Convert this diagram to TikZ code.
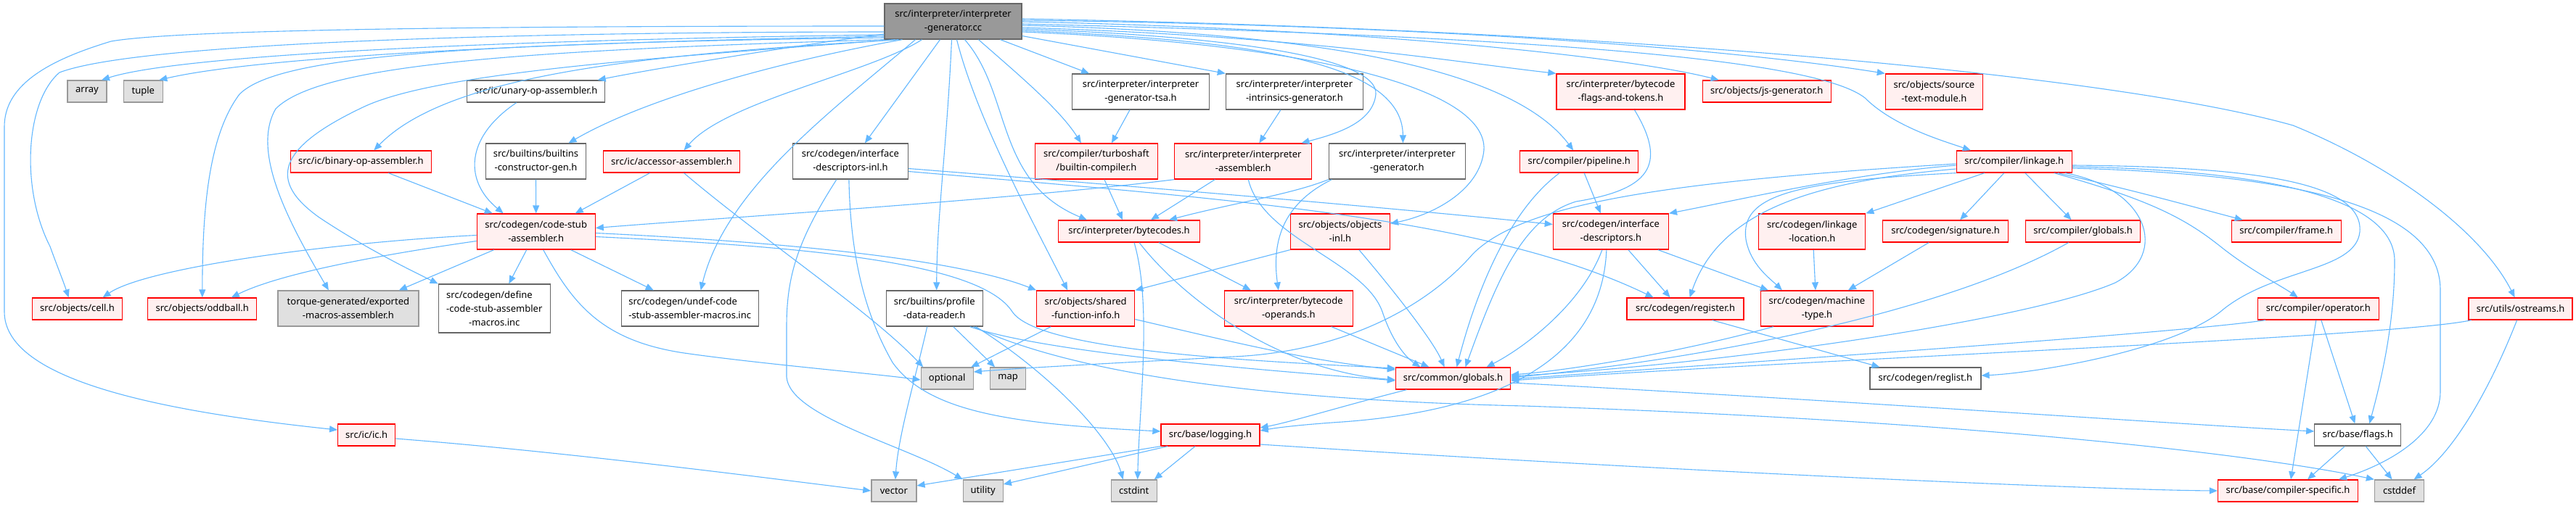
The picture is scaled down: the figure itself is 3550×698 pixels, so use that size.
\documentclass[tikz,border=0pt]{standalone}
\usepackage{fontspec}
\setmainfont{Noto Sans}
\usetikzlibrary{arrows.meta}
\definecolor{edgec}{HTML}{63B8FF}
\definecolor{rfill}{HTML}{FFF0F0}
\definecolor{rdraw}{HTML}{FF0000}
\definecolor{gdraw}{HTML}{666666}
\definecolor{sfill}{HTML}{E0E0E0}
\definecolor{sdraw}{HTML}{999999}
\definecolor{mfill}{HTML}{999999}
\newlength\dlen
\tikzset{
  basebox/.style={rectangle, inner sep=0pt, align=center, font=\fontsize{13}{19}\selectfont, line width=1.3pt, text=black},
  rnode/.style={basebox, draw=rdraw, fill=rfill},
  wnode/.style={basebox, draw=gdraw, fill=white},
  snode/.style={basebox, draw=sdraw, fill=sfill},
  mnode/.style={basebox, draw=gdraw, fill=mfill},
  conn/.style={draw=edgec, line width=1.1pt, -{Triangle[length=11pt,width=9pt]}},
}
\begin{document}
\begin{tikzpicture}[x=1pt,y=-1pt]
\useasboundingbox (0,0) rectangle (3550,698);
\fill[white] (0,0) rectangle (3550,698);
% ---------- nodes ----------
\node[mnode, minimum width=189pt, minimum height=49pt] (main) at (1313.5,29.5) {src/interpreter/interpreter\\-generator.cc};
\node[snode, minimum width=54pt, minimum height=30pt] (array) at (120,126) {array};
\node[snode, minimum width=54pt, minimum height=30pt] (tuple) at (197.3,126) {tuple};
\node[wnode, minimum width=190pt, minimum height=30pt] (unary) at (738.7,126) {src/ic/unary-op-assembler.h};
\node[wnode, minimum width=189pt, minimum height=49pt] (tsa) at (1572,126.5) {src/interpreter/interpreter\\-generator-tsa.h};
\node[wnode, minimum width=189pt, minimum height=49pt] (intr) at (1783.9,126.5) {src/interpreter/interpreter\\-intrinsics-generator.h};
\node[rnode, minimum width=177pt, minimum height=49pt] (flagstok) at (2233.5,126.5) {src/interpreter/bytecode\\-flags-and-tokens.h};
\node[rnode, minimum width=177pt, minimum height=30pt] (jsgen) at (2434.7,126) {src/objects/js-generator.h};
\node[rnode, minimum width=134pt, minimum height=49pt] (stm) at (2665.4,126.5) {src/objects/source\\-text-module.h};
\node[rnode, minimum width=194pt, minimum height=30pt] (binop) at (497.3,223) {src/ic/binary-op-assembler.h};
\node[wnode, minimum width=138pt, minimum height=49pt] (bcg) at (738.5,222.5) {src/builtins/builtins\\-constructor-gen.h};
\node[rnode, minimum width=188pt, minimum height=30pt] (acc) at (925.5,223) {src/ic/accessor-assembler.h};
\node[wnode, minimum width=159pt, minimum height=49pt] (idinl) at (1171.9,222.5) {src/codegen/interface\\-descriptors-inl.h};
\node[rnode, minimum width=169pt, minimum height=49pt] (turbo) at (1510.9,222.5) {src/compiler/turboshaft\\/builtin-compiler.h};
\node[rnode, minimum width=189pt, minimum height=49pt] (iasm) at (1713.3,222.5) {src/interpreter/interpreter\\-assembler.h};
\node[wnode, minimum width=188pt, minimum height=49pt] (igen) at (1925.4,222.5) {src/interpreter/interpreter\\-generator.h};
\node[rnode, minimum width=163pt, minimum height=30pt] (pipeline) at (2176.2,223) {src/compiler/pipeline.h};
\node[rnode, minimum width=159pt, minimum height=30pt] (linkage) at (2775.8,223) {src/compiler/linkage.h};
\node[rnode, minimum width=163pt, minimum height=49pt] (csa) at (738.7,319.5) {src/codegen/code-stub\\-assembler.h};
\node[rnode, minimum width=195pt, minimum height=30pt] (bytecodes) at (1556,319) {src/interpreter/bytecodes.h};
\node[rnode, minimum width=137pt, minimum height=49pt] (objinl) at (1846.9,319.5) {src/objects/objects\\-inl.h};
\node[rnode, minimum width=159pt, minimum height=49pt] (idesc) at (2219.9,319.5) {src/codegen/interface\\-descriptors.h};
\node[rnode, minimum width=147pt, minimum height=49pt] (llc) at (2497.2,319.5) {src/codegen/linkage\\-location.h};
\node[rnode, minimum width=173pt, minimum height=30pt] (sig) at (2681.1,319) {src/codegen/signature.h};
\node[rnode, minimum width=158pt, minimum height=30pt] (cglobals) at (2870.6,319) {src/compiler/globals.h};
\node[rnode, minimum width=151pt, minimum height=30pt] (frame) at (3150.7,319) {src/compiler/frame.h};
\node[rnode, minimum width=124pt, minimum height=30pt] (cell) at (106.6,426) {src/objects/cell.h};
\node[rnode, minimum width=150pt, minimum height=30pt] (oddball) at (278.8,426) {src/objects/oddball.h};
\node[snode, minimum width=194pt, minimum height=49pt] (torque) at (479.9,425.5) {torque-generated/exported\\-macros-assembler.h};
\node[wnode, minimum width=154pt, minimum height=67pt] (define) at (681.3,425.5) {\settowidth{\dlen}{-code-stub-assembler}\makebox[\dlen][l]{src/codegen/define}\\-code-stub-assembler\\-macros.inc};
\node[wnode, minimum width=189pt, minimum height=49pt, align=left] (undef) at (950.7,425.5) {src/codegen/undef-code\\-stub-assembler-macros.inc};
\node[wnode, minimum width=133pt, minimum height=49pt] (pdr) at (1287.7,425.5) {src/builtins/profile\\-data-reader.h};
\node[rnode, minimum width=135pt, minimum height=49pt] (sfi) at (1496.2,425.5) {src/objects/shared\\-function-info.h};
\node[rnode, minimum width=177pt, minimum height=49pt] (bops) at (1775.8,425.5) {src/interpreter/bytecode\\-operands.h};
\node[rnode, minimum width=161pt, minimum height=30pt] (regh) at (2322.6,426) {src/codegen/register.h};
\node[rnode, minimum width=155pt, minimum height=49pt] (mtype) at (2503.9,425.5) {src/codegen/machine\\-type.h};
\node[rnode, minimum width=167pt, minimum height=30pt] (oph) at (3194.8,426) {src/compiler/operator.h};
\node[rnode, minimum width=143pt, minimum height=30pt] (ostreams) at (3473.6,426) {src/utils/ostreams.h};
\node[snode, minimum width=72pt, minimum height=30pt] (optional) at (1305.2,522) {optional};
\node[snode, minimum width=49pt, minimum height=30pt] (map) at (1389.1,522) {map};
\node[rnode, minimum width=158pt, minimum height=30pt] (globals) at (2002.5,522) {src/common/globals.h};
\node[wnode, minimum width=153pt, minimum height=30pt] (reglist) at (2653.4,522) {src/codegen/reglist.h};
\node[rnode, minimum width=79pt, minimum height=30pt] (ic) at (505.2,600) {src/ic/ic.h};
\node[rnode, minimum width=136pt, minimum height=30pt] (logging) at (1668,600) {src/base/logging.h};
\node[wnode, minimum width=119pt, minimum height=30pt] (flags) at (3249.3,600) {src/base/flags.h};
\node[snode, minimum width=62pt, minimum height=30pt] (vector) at (1231.9,677) {vector};
\node[snode, minimum width=55pt, minimum height=30pt] (utility) at (1354.7,677) {utility};
\node[snode, minimum width=63pt, minimum height=30pt] (cstdint) at (1562.7,677) {cstdint};
\node[rnode, minimum width=193pt, minimum height=30pt] (compspec) at (3153,677) {src/base/compiler-specific.h};
\node[snode, minimum width=68pt, minimum height=30pt] (cstddef) at (3306.5,677) {cstddef};
% ---------- edges from main ----------
\draw[conn] ([yshift=-6.5pt]main.west) .. controls (700,36) and (250,40) .. (153,57) .. controls (60,85) and (6,120) .. (6,175) -- (6,430) .. controls (6,520) and (200,565) .. ([yshift=7pt]ic.west);
\draw[conn] ([yshift=-14.5pt]main.west) .. controls (800,44) and (200,55) .. (82,100) .. controls (35,140) and (28,260) .. (69,340) .. controls (78,365) and (88,390) .. ([xshift=-12pt]cell.north);
\draw[conn] ([yshift=-18.5pt]main.west) .. controls (700,55) and (250,75) .. ([xshift=20pt]array.north);
\draw[conn] ([yshift=-20.5pt]main.west) .. controls (700,60) and (350,80) .. ([xshift=22pt]tuple.north);
\draw[conn] ([yshift=-22.5pt]main.west) .. controls (600,60) and (380,80) .. (330,130) .. controls (285,190) and (279,300) .. (oddball.north);
\draw[conn] (main.south west) .. controls (700,70) and (440,90) .. (380,150) .. controls (345,210) and (400,310) .. ([xshift=-27pt]torque.north);
\draw[conn] ([xshift=-80pt]main.south) .. controls (900,80) and (600,100) .. (500,148) .. controls (380,205) and (370,250) .. (440,300) .. controls (500,340) and (560,370) .. (define.north west);
\draw[conn] ([xshift=-75pt]main.south) .. controls (900,75) and (620,100) .. ([xshift=18pt]binop.north);
\draw[conn] ([yshift=-17.5pt]main.west) .. controls (1100,62) and (900,95) .. ([xshift=85pt]unary.north);
\draw[conn] ([xshift=-70pt]main.south) .. controls (1100,80) and (900,130) .. ([xshift=45pt]bcg.north);
\draw[conn] ([xshift=-43pt]main.south) .. controls (1200,100) and (1000,140) .. ([xshift=17pt]acc.north);
\draw[conn] ([xshift=-52pt]main.south) .. controls (1150,150) and (1000,260) .. ([xshift=15pt]undef.north);
\draw[conn] ([xshift=-18pt]main.south) -- ([xshift=20pt]idinl.north);
\draw[conn] ([xshift=-2pt]main.south) .. controls (1305,200) and (1291,300) .. ([xshift=3pt]pdr.north);
\draw[conn] ([xshift=5pt]main.south) .. controls (1345,160) and (1420,300) .. ([xshift=-25pt]sfi.north);
\draw[conn] ([xshift=16pt]main.south) .. controls (1395,130) and (1370,250) .. ([xshift=-58pt]bytecodes.north);
\draw[conn] ([xshift=35pt]main.south) .. controls (1400,100) and (1460,150) .. ([xshift=-21pt]turbo.north);
\draw[conn] ([xshift=65pt]main.south) -- ([xshift=-71pt]tsa.north);
\draw[conn] ([yshift=-20pt]main.east) -- (intr.north west);
\draw[conn] ([yshift=-10.5pt]main.east) .. controls (1700,50) and (1900,80) .. (1896,130) .. controls (1892,170) and (1840,185) .. ([xshift=-15pt]iasm.north east);
\draw[conn] ([yshift=-12.5pt]main.east) .. controls (1700,55) and (1933,80) .. ([xshift=8pt]igen.north);
\draw[conn] ([yshift=-14.5pt]main.east) .. controls (1800,60) and (2050,120) .. (2045,207) .. controls (2040,260) and (1980,295) .. ([yshift=11pt]objinl.east);
\draw[conn] ([yshift=-5.5pt]main.east) .. controls (1800,45) and (2080,90) .. ([xshift=-8pt]pipeline.north);
\draw[conn] ([yshift=-8.5pt]main.east) .. controls (1800,50) and (2000,85) .. (flagstok.north west);
\draw[conn] ([yshift=-0.5pt]main.east) .. controls (1900,40) and (2250,80) .. ([xshift=-66pt]jsgen.north);
\draw[conn] ([yshift=1.5pt]main.east) .. controls (2000,35) and (2400,70) .. (stm.north west);
\draw[conn] ([yshift=-3.5pt]main.east) .. controls (2100,50) and (2500,80) .. (2570,135) .. controls (2610,175) and (2680,195) .. ([xshift=-60pt]linkage.north);
\draw[conn] ([yshift=3.5pt]main.east) .. controls (2200,40) and (2900,100) .. (3160,173) .. controls (3300,230) and (3420,320) .. ([xshift=-8pt]ostreams.north);
% ---------- other edges ----------
\draw[conn] ([xshift=-27pt]unary.south) .. controls (640,190) and (640,250) .. ([xshift=-45pt]csa.north);
\draw[conn] (bcg.south) -- (csa.north);
\draw[conn] ([xshift=-30pt]acc.south) -- ([xshift=54pt]csa.north);
\draw[conn] ([xshift=38pt]binop.south) -- ([xshift=-60pt]csa.north);
\draw[conn] ([xshift=17pt]acc.south) .. controls (1050,330) and (1200,430) .. ([xshift=-33pt]optional.north);
\draw[conn] ([xshift=-15pt]tsa.south) -- ([xshift=21pt]turbo.north);
\draw[conn] ([xshift=-19pt]intr.south) -- ([xshift=22pt]iasm.north);
\draw[conn] ([xshift=11pt]turbo.south) -- ([xshift=-9pt]bytecodes.north);
\draw[conn] ([xshift=-39pt]iasm.south) -- ([xshift=30pt]bytecodes.north);
\draw[conn] (igen.south west) .. controls (1780,268) and (1700,280) .. ([xshift=55pt]bytecodes.north);
\draw[conn] (iasm.south west) .. controls (1400,275) and (1000,300) .. ([yshift=5pt]csa.east);
\draw[conn] ([xshift=7pt]iasm.south) .. controls (1740,330) and (1880,360) .. (1905,430) .. controls (1920,475) and (1940,495) .. ([xshift=-45pt]globals.north);
\draw[conn] ([xshift=-90pt]igen.south) .. controls (1770,280) and (1752,330) .. ([xshift=-14pt]bops.north);
\draw[conn] ([xshift=41pt]bytecodes.south) -- ([xshift=-52pt]bops.north);
\draw[conn] ([xshift=14pt]bytecodes.south) .. controls (1620,400) and (1750,510) .. ([yshift=-2pt]globals.west);
\draw[conn] ([xshift=7pt]bytecodes.south) .. controls (1588,420) and (1570,560) .. ([xshift=5pt]cstdint.north);
\draw[conn] ([xshift=59pt]bops.south) -- ([xshift=-33pt]globals.north);
\draw[conn] ([xshift=26pt]objinl.south) .. controls (1920,400) and (1975,470) .. ([xshift=-12pt]globals.north);
\draw[conn] (objinl.south west) -- (sfi.north east);
\draw[conn] ([xshift=7pt]pipeline.south) -- ([xshift=-14pt]idesc.north);
\draw[conn] ([xshift=-27pt]pipeline.south) .. controls (2080,290) and (2035,400) .. ([xshift=5pt]globals.north);
\draw[conn] ([xshift=19pt]flagstok.south) .. controls (2300,230) and (2270,262) .. (2172,278) .. controls (2100,300) and (2065,380) .. ([xshift=17pt]globals.north);
\draw[conn] ([yshift=-10pt]idinl.east) .. controls (1600,260) and (1900,285) .. ([yshift=10pt]idesc.west);
\draw[conn] ([yshift=-14pt]idinl.east) .. controls (1700,275) and (2050,300) .. ([xshift=-44pt]regh.north);
\draw[conn] ([xshift=-2pt]idinl.south) .. controls (1172,350) and (1190,430) .. (1230,500) .. controls (1280,570) and (1400,585) .. ([yshift=5pt]logging.west);
\draw[conn] ([xshift=-19pt]idinl.south) .. controls (1100,330) and (1084,380) .. (1084,450) -- (1084,520) .. controls (1088,575) and (1250,615) .. (utility.north west);
\draw[conn] ([xshift=65pt]idesc.south) -- ([xshift=-67pt]mtype.north);
\draw[conn] ([xshift=24pt]idesc.south) -- ([xshift=-21pt]regh.north);
\draw[conn] ([xshift=-12pt]idesc.south) .. controls (2180,420) and (2100,480) .. ([xshift=46pt]globals.north);
\draw[conn] ([xshift=-6pt]idesc.south) .. controls (2210,440) and (2150,560) .. (1850,582) .. controls (1790,586) and (1760,590) .. ([yshift=6pt]logging.east);
\draw[conn] ([yshift=-5pt]linkage.west) .. controls (2550,240) and (2400,275) .. (idesc.north east);
\draw[conn] ([yshift=-3pt]linkage.west) .. controls (2300,250) and (2100,280) .. (2030,350) .. controls (1965,425) and (1850,485) .. (1700,492) .. controls (1550,500) and (1400,508) .. ([yshift=9pt]optional.east);
\draw[conn] ([xshift=70pt]linkage.south) .. controls (2960,260) and (2990,350) .. (2915,390) .. controls (2800,440) and (2400,500) .. ([yshift=3pt]globals.east);
\draw[conn] ([xshift=-41pt]linkage.south) -- (llc.north east);
\draw[conn] ([xshift=-14pt]linkage.south) -- ([xshift=20pt]sig.north);
\draw[conn] ([xshift=15pt]linkage.south) -- ([xshift=-16pt]cglobals.north);
\draw[conn] ([xshift=60pt]linkage.south) .. controls (2950,265) and (3010,282) .. ([xshift=-60pt]frame.north);
\draw[conn] ([xshift=55pt]linkage.south) .. controls (2960,275) and (3010,300) .. (3060,340) .. controls (3100,372) and (3140,392) .. ([xshift=-28pt]oph.north);
\draw[conn] ([yshift=-5pt]linkage.east) .. controls (3100,230) and (3258,250) .. (3252,320) .. controls (3246,375) and (3130,370) .. (3060,430) .. controls (2990,485) and (2800,515) .. ([yshift=4pt]reglist.east);
\draw[conn] ([yshift=-7pt]linkage.east) .. controls (3150,235) and (3300,280) .. (3300,360) .. controls (3300,450) and (3280,530) .. ([xshift=16pt]flags.north);
\draw[conn] ([yshift=-9pt]linkage.east) .. controls (3150,240) and (3363,280) .. (3363,400) -- (3363,540) .. controls (3363,600) and (3290,640) .. ([xshift=70pt]compspec.north);
\draw[conn] (linkage.south west) .. controls (2470,250) and (2398,270) .. (2406,330) .. controls (2412,365) and (2440,385) .. ([xshift=-48pt]mtype.north);
\draw[conn] ([yshift=-10pt]linkage.west) .. controls (2500,250) and (2370,290) .. ([xshift=6pt]regh.north);
\draw[conn] ([xshift=2pt]llc.south) -- ([xshift=-2pt]mtype.north);
\draw[conn] ([xshift=-23pt]sig.south) -- ([xshift=43pt]mtype.north);
\draw[conn] ([xshift=-20pt]cglobals.south) .. controls (2700,420) and (2400,490) .. ([yshift=1pt]globals.east);
\draw[conn] ([xshift=-60pt]mtype.south) .. controls (2300,490) and (2150,512) .. ([yshift=5pt]globals.east);
\draw[conn] ([xshift=37pt]regh.south) -- ([xshift=-63pt]reglist.north);
\draw[conn] ([xshift=-73pt]oph.south) .. controls (3000,460) and (2400,500) .. ([yshift=-1pt]globals.east);
\draw[conn] ([xshift=4pt]oph.south) -- ([xshift=-4pt]flags.north);
\draw[conn] ([xshift=-3pt]oph.south) -- ([xshift=4pt]compspec.north);
\draw[conn] ([xshift=-68pt]ostreams.south) .. controls (3300,465) and (2500,495) .. ([yshift=-3pt]globals.east);
\draw[conn] ([xshift=-5pt]ostreams.south) .. controls (3430,540) and (3380,625) .. ([xshift=20pt]cstddef.north);
\draw[conn] ([xshift=-18pt]flags.south) -- ([xshift=27pt]compspec.north);
\draw[conn] ([xshift=11pt]flags.south) -- ([xshift=-10pt]cstddef.north);
\draw[conn] ([yshift=-6pt]globals.east) .. controls (2500,550) and (3000,585) .. ([yshift=5pt]flags.west);
\draw[conn] ([xshift=-64pt]globals.south) .. controls (1850,560) and (1780,582) .. ([yshift=10pt]logging.east);
\draw[conn] ([yshift=-13pt]logging.east) .. controls (2300,650) and (2900,676) .. (compspec.west);
\draw[conn] (logging.south west) -- ([yshift=7pt]vector.east);
\draw[conn] ([xshift=-59pt]logging.south) -- ([yshift=9pt]utility.east);
\draw[conn] ([xshift=-21pt]logging.south) -- ([xshift=28pt]cstdint.north);
\draw[conn] ([yshift=-5pt]ic.east) .. controls (800,625) and (1100,665) .. (vector.west);
\draw[conn] ([xshift=-10pt]pdr.south) .. controls (1262,520) and (1238,600) .. ([xshift=2pt]vector.north);
\draw[conn] ([xshift=26pt]pdr.south) -- ([xshift=-18pt]map.north);
\draw[conn] ([xshift=57pt]pdr.south) .. controls (1440,510) and (1530,600) .. ([xshift=-15pt]cstdint.north);
\draw[conn] ([xshift=49pt]pdr.south) .. controls (1450,490) and (1800,515) .. ([yshift=-3pt]globals.west);
\draw[conn] ([xshift=54pt]pdr.south) .. controls (1500,525) and (1800,553) .. (2100,560) .. controls (2700,580) and (3100,625) .. (cstddef.north west);
\draw[conn] ([xshift=-48pt]sfi.south) -- ([xshift=33pt]optional.north);
\draw[conn] ([yshift=-15pt]sfi.east) .. controls (1700,472) and (1800,497) .. ([yshift=12pt]globals.west);
\draw[conn] ([yshift=-5pt]csa.west) .. controls (450,335) and (200,370) .. ([xshift=35pt]cell.north);
\draw[conn] ([yshift=-13pt]csa.west) .. controls (500,355) and (380,380) .. ([xshift=40pt]oddball.north);
\draw[conn] ([xshift=-58pt]csa.south) -- ([xshift=70pt]torque.north);
\draw[conn] ([xshift=-13pt]csa.south) -- ([xshift=20pt]define.north);
\draw[conn] ([xshift=48pt]csa.south) -- ([xshift=-50pt]undef.north);
\draw[conn] ([xshift=10pt]csa.south) .. controls (790,420) and (830,472) .. (950,488) .. controls (1050,502) and (1200,515) .. ([yshift=-2pt]optional.west);
\draw[conn] ([yshift=-2pt]csa.east) .. controls (1000,330) and (1300,350) .. (sfi.north west);
\draw[conn] ([yshift=-7pt]csa.east) .. controls (1100,340) and (1350,360) .. (1395,430) .. controls (1430,482) and (1700,497) .. ([yshift=14pt]globals.west);
\end{tikzpicture}
\end{document}
